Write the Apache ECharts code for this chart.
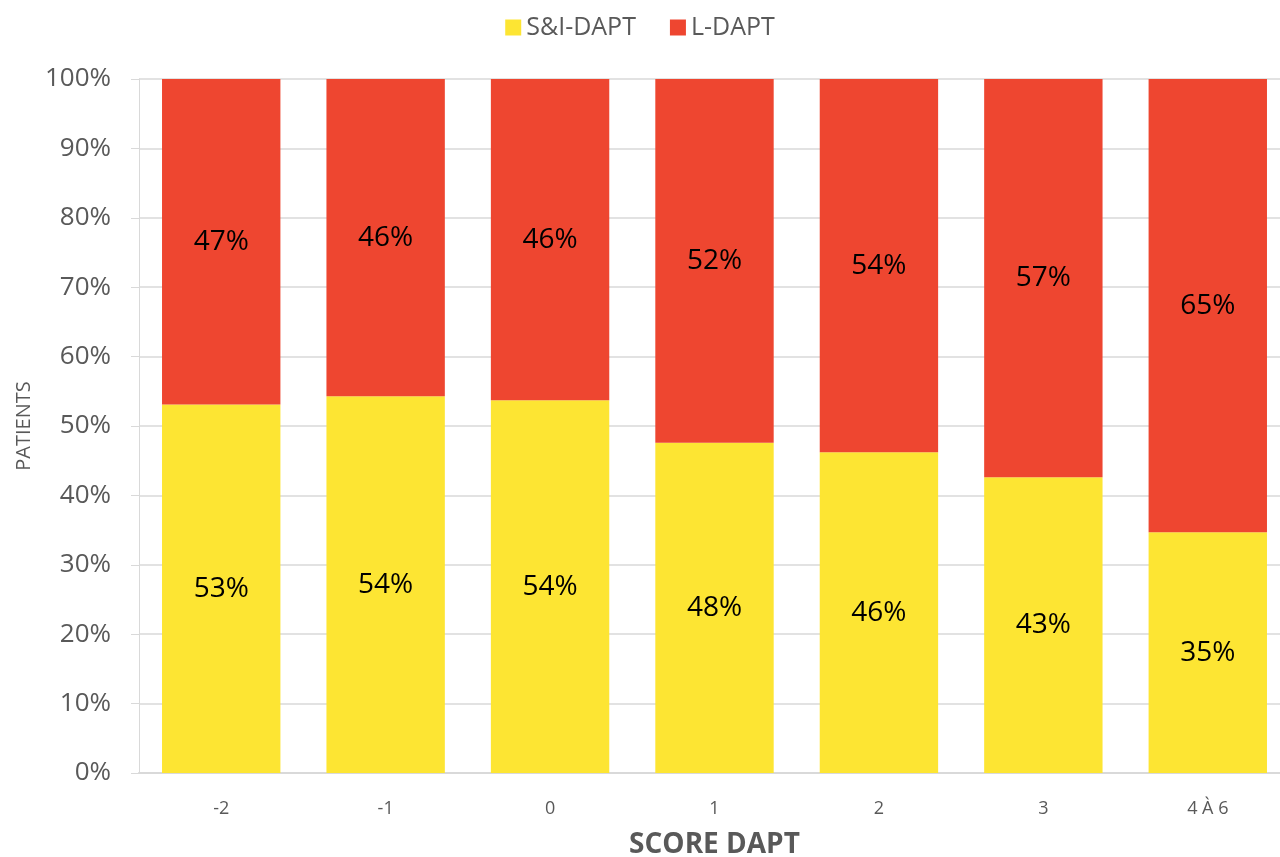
<!DOCTYPE html>
<html>
<head>
<meta charset="utf-8">
<script src="https://cdn.jsdelivr.net/npm/echarts@6/dist/echarts.min.js"></script>
<style>
  html, body { margin: 0; padding: 0; background: #fff; }
  #chart { width: 1280px; height: 857px; }
</style>
</head>
<body>
<div id="chart"></div>
<script>
// score categories
const categories = ["-2", "-1", "0", "1", "2", "3", "4 À 6"];
// share of patients (%)
const sidapt = [53.1, 54.3, 53.7, 47.6, 46.2, 42.6, 34.7];
const ldapt = [46.9, 45.7, 46.3, 52.4, 53.8, 57.4, 65.3];

const chart = echarts.init(document.getElementById("chart"));

const labelStyle = {
  show: true,
  position: "inside",
  color: "#000",
  fontSize: 28,
  fontFamily: "Open Sans",
  formatter: function(p) {
    return Math.round(p.value) + "%";
  }
};

chart.setOption({
  animation: false,
  color: ["#FDE533", "#EE4630"],
  legend: {
    top: 10,
    left: "center",
    itemWidth: 16,
    itemHeight: 16,
    itemGap: 34,
    icon: "rect",
    textStyle: { fontSize: 25, color: "#595959", fontFamily: "Open Sans" },
    data: ["S&I-DAPT", "L-DAPT"]
  },
  grid: {
    left: 139,
    width: 1151,
    top: 79,
    bottom: 84,
    outerBoundsMode: "none"
  },
  xAxis: {
    type: "category",
    data: categories,
    name: "SCORE DAPT",
    nameLocation: "middle",
    nameGap: 58,
    nameTextStyle: { fontSize: 28, fontWeight: "bold", color: "#595959", fontFamily: "Open Sans" },
    axisLine: { lineStyle: { color: "#d9d9d9", width: 2 } },
    axisTick: { show: false },
    axisLabel: { fontSize: 18, color: "#595959", margin: 27, fontFamily: "Open Sans" }
  },
  yAxis: {
    type: "value",
    min: 0,
    max: 100,
    interval: 10,
    name: "PATIENTS",
    nameLocation: "middle",
    nameGap: 103,
    nameTextStyle: { fontSize: 20, color: "#595959", fontFamily: "Open Sans" },
    axisLine: { show: true, lineStyle: { color: "#d9d9d9" } },
    axisTick: { show: true, length: 8, lineStyle: { color: "#d9d9d9" } },
    axisLabel: { fontSize: 26, color: "#595959", margin: 28, formatter: "{value}%", fontFamily: "Open Sans" },
    splitLine: { lineStyle: { color: "#d9d9d9", width: 1.5 } }
  },
  series: [
    {
      name: "S&I-DAPT",
      type: "bar",
      stack: "total",
      barCategoryGap: "28%",
      label: labelStyle,
      data: sidapt
    },
    {
      name: "L-DAPT",
      type: "bar",
      stack: "total",
      barCategoryGap: "28%",
      label: labelStyle,
      data: ldapt
    }
  ]
});
</script>
</body>
</html>
